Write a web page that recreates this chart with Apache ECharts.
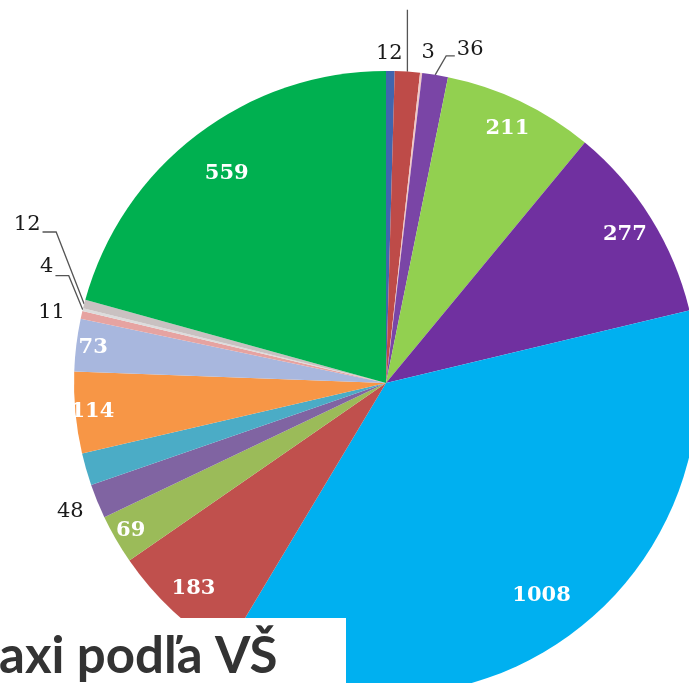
<!DOCTYPE html>
<html><head><meta charset="utf-8">
<script src="https://cdn.jsdelivr.net/npm/echarts/dist/echarts.min.js"></script>
<style>html,body{margin:0;padding:0;background:#fff}#c{width:689px;height:683px}</style>
</head><body><div id="c"></div>
<script>
// ---- data (clockwise from 12 o'clock) ----
const categories = ['VŠ 1','VŠ 2','VŠ 3','VŠ 4','VŠ 5','VŠ 6','VŠ 7','VŠ 8','VŠ 9','VŠ 10','VŠ 11','VŠ 12','VŠ 13','VŠ 14','VŠ 15','VŠ 16','VŠ 17'];
const values = [12, 35, 3, 36, 211, 277, 1008, 183, 69, 48, 45, 114, 73, 11, 4, 12, 559];
const titleText = 'axi podľa VŠ';

// ---- style ----
const colors = ['#4165AE','#BE4B48','#F0C8C6','#7A45A6','#92D050','#7030A0','#00B0F0','#C0504D','#9BBB59','#8064A2','#4BACC6','#F79646','#A8B7DE','#E6A3A1','#DCDCDC','#C9C1C1','#00B050'];
// out: outside label, line: leader line only (label off-canvas), in1..in3: inside labels on rings, none
const labelMode = ['out','line','out','out','in2','in2','in1','in2','in3','out','none','in3','in3','out','out','out','in1'];
const outLabelPos = {
  0: {dx: -1, dy: -17},
  1: {dx: 0, dy: -100, bend: [0, -62]},
  2: {dx: 7, dy: -20},
  3: {dx: 35, dy: -25, bend: [11, -19]},
  9: {dx: -27, dy: 10},
  13: {dx: -30, dy: -2},
  14: {dx: -36, dy: -43, bend: [-14, -34]},
  15: {dx: -57, dy: -79, bend: [-28, -72]}
};
const CENTER = [386, 383];
const R = 312;
const rings = {in1: 208, in2: 245, in3: 272};

const chart = echarts.init(document.getElementById('c'), null, {renderer: 'canvas'});

const mainData = values.map((v, i) => {
  const outside = labelMode[i] === 'out' || labelMode[i] === 'line';
  return {
    name: categories[i], value: v,
    itemStyle: {color: colors[i]},
    label: {show: outside},
    labelLine: {show: outside}
  };
});

function ringSeries(key) {
  return {
    type: 'pie', center: CENTER, radius: [rings[key], R], silent: true,
    startAngle: 90, clockwise: true, animation: false,
    avoidLabelOverlap: false,
    itemStyle: {color: 'rgba(0,0,0,0)', borderWidth: 0},
    emphasis: {disabled: true},
    label: {position: 'inside', color: '#fff', fontFamily: 'DejaVu Serif', fontWeight: 'bold', fontSize: 21, formatter: '{c}'},
    labelLine: {show: false},
    data: values.map((v, i) => ({name: categories[i], value: v, label: {show: labelMode[i] === key}}))
  };
}

const option = {
  backgroundColor: '#fff',
  animation: false,
  series: [
    {
      type: 'pie', center: CENTER, radius: [0, R],
      startAngle: 90, clockwise: true,
      avoidLabelOverlap: false,
      emphasis: {disabled: true},
      itemStyle: {borderWidth: 0},
      label: {position: 'outside', formatter: '{c}', fontFamily: 'DejaVu Serif', fontSize: 21, color: '#1a1a1a'},
      labelLine: {length: 6, length2: 4, smooth: false, lineStyle: {color: '#555', width: 1.3}},
      labelLayout: function (p) {
        const cfg = outLabelPos[p.dataIndex];
        if (!cfg || !p.labelLinePoints) return {};
        const E = p.labelLinePoints[0];
        const w = p.labelRect.width;
        const cx = E[0] + cfg.dx, cy = E[1] + cfg.dy;
        let pts;
        if (cfg.bend) {
          const b = [E[0] + cfg.bend[0], E[1] + cfg.bend[1]];
          const ax = cfg.dx > 0 ? cx - w / 2 - 2 : (cfg.dx < 0 ? cx + w / 2 + 2 : b[0]);
          pts = [E, b, [ax, b[1]]];
        } else {
          pts = [E, E, E];
        }
        return {x: cx, y: cy, align: 'center', verticalAlign: 'middle', labelLinePoints: pts};
      },
      data: mainData
    },
    ringSeries('in1'), ringSeries('in2'), ringSeries('in3')
  ],
  graphic: [
    {type: 'rect', z: 100, shape: {x: 0, y: 618, width: 346, height: 65}, style: {fill: '#fff'}},
    {type: 'text', z: 101, x: -1, y: 657, style: {text: titleText, font: 'bold 51px Lato', fill: '#333', verticalAlign: 'middle'}}
  ]
};
chart.setOption(option);
</script>
</body></html>
